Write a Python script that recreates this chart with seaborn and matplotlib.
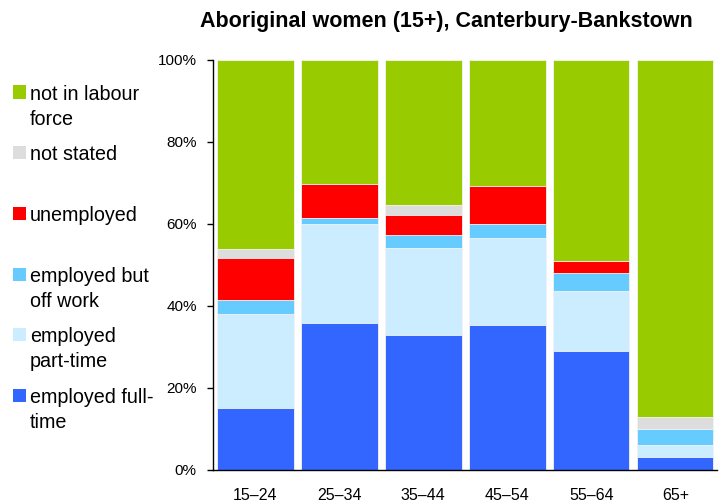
import numpy as np
import pandas as pd
import matplotlib
matplotlib.use('Agg')
import matplotlib.pyplot as plt
import seaborn as sns
from matplotlib.patches import Rectangle

age_groups = ['15–24', '25–34', '35–44', '45–54', '55–64', '65+']
full_time = [15.0, 35.9, 33.0, 35.3, 29.1, 3.1]
part_time = [23.1, 24.2, 21.2, 21.2, 14.6, 3.0]
off_work = [3.3, 1.4, 3.1, 3.6, 4.4, 3.8]
unemployed = [10.4, 8.2, 4.9, 9.2, 2.8, 0.0]
not_stated = [2.1, 0.0, 2.4, 0.0, 0.0, 3.1]
not_in_lf = [46.1, 30.3, 35.4, 30.7, 49.1, 87.0]

series = ['employed full-\ntime', 'employed\npart-time', 'employed but\noff work',
          'unemployed', 'not stated', 'not in labour\nforce']
colors = ['#3366FF', '#CCECFF', '#66CCFF', '#FF0000', '#DDDDDD', '#99CC00']

sns.set_style('white')
plt.rcParams['font.family'] = ['Liberation Sans', 'DejaVu Sans']
plt.rcParams['text.color'] = 'black'
plt.rcParams['xtick.color'] = 'black'
plt.rcParams['ytick.color'] = 'black'

df = pd.DataFrame({'age': age_groups, 's0': full_time, 's1': part_time, 's2': off_work,
                   's3': unemployed, 's4': not_stated, 's5': not_in_lf})
cols = ['s0', 's1', 's2', 's3', 's4', 's5']
cum = df[cols].cumsum(axis=1)

fig = plt.figure(figsize=(7.27, 5.04), dpi=100)
ax = fig.add_axes([0.2935, 0.0675, 0.6931, 0.8135])

# draw tallest first, overlay shorter stacks on top
for i in reversed(range(len(cols))):
    sns.barplot(x=df['age'], y=cum[cols[i]], color=colors[i], width=0.91,
                edgecolor='#f4f4f4', linewidth=0.6, ax=ax, saturation=1)

ax.set_ylim(0, 100)
ax.set_xlim(-0.5, 5.5)
ax.set_yticks(np.arange(0, 101, 20))
ax.set_yticklabels([f'{v}%' for v in range(0, 101, 20)], fontsize=11)
ax.set_xticks(range(6))
ax.set_xticklabels(age_groups, fontsize=11.5)
ax.set_xticks(np.arange(-0.5, 6, 1), minor=True)
ax.tick_params(axis='x', which='major', length=0, pad=13)
ax.tick_params(axis='x', which='minor', length=5, width=1, color='black', direction='out')
ax.tick_params(axis='y', length=4, width=1, color='black', direction='out', left=True, pad=8)
ax.set_xlabel('')
ax.set_ylabel('')
for s in ['top', 'right']:
    ax.spines[s].set_visible(False)
for s in ['left', 'bottom']:
    ax.spines[s].set_color('black')
    ax.spines[s].set_linewidth(1)

fig.text(446 / 727, 1 - 22 / 504, 'Aboriginal women (15+), Canterbury-Bankstown',
         ha='center', va='center', fontsize=15.5, fontweight='bold')

# legend, top to bottom
leg_y = [92, 152, 213, 274, 334, 395]
for j, yy in enumerate(leg_y):
    i = len(series) - 1 - j
    fig.patches.append(Rectangle((13 / 727, 1 - (yy + 6.5) / 504), 13 / 727, 13 / 504,
                                 transform=fig.transFigure, facecolor=colors[i],
                                 edgecolor='none'))
    fig.text(30 / 727, 1 - (yy - 7) / 504, series[i], ha='left', va='top',
             fontsize=14.2, linespacing=1.4)

fig.savefig('out.png', dpi=100)
